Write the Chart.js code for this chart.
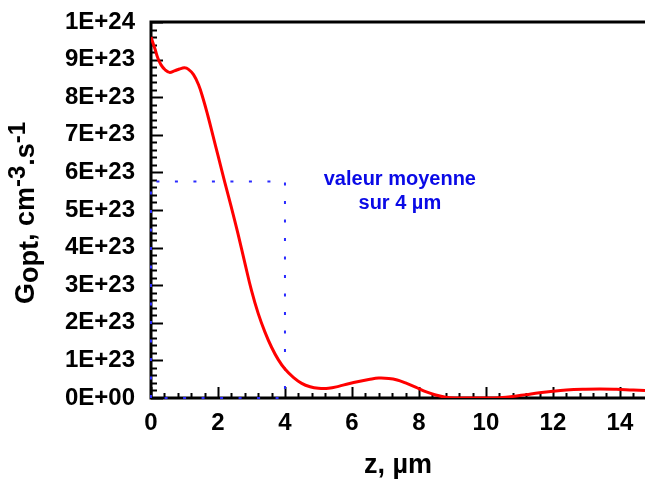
<!DOCTYPE html>
<html lang="fr">
<head>
    <meta charset="UTF-8">
    <title>Gopt</title>
    <script src="https://cdn.jsdelivr.net/npm/chart.js"></script>
    <style>
        body { margin: 0; background: #fff; }
        .chart-container { width: 645px; height: 479px; position: relative; }
    </style>
</head>
<body>
    <div class="chart-container">
        <canvas id="goptChart"></canvas>
    </div>

    <script>
        // profile of the optical generation rate (G in cm-3.s-1)
        const zValues = [0, 0.12, 0.2, 0.3, 0.42, 0.55, 0.7, 0.85, 1.0, 1.12, 1.27, 1.42, 1.55, 1.7, 1.85, 2.0,
            2.2, 2.4, 2.6, 2.8, 3.0, 3.2, 3.4, 3.6, 3.8, 4.0, 4.25, 4.5, 4.75, 5.0, 5.3, 5.6, 5.9, 6.2, 6.5,
            6.8, 7.1, 7.35, 7.6, 7.9, 8.2, 8.5, 8.8, 9.1, 9.5, 10.0, 10.4, 10.8, 11.2, 11.6, 12.0, 12.4,
            12.9, 13.4, 13.9, 14.4, 14.75];
        const gValues = [9.6e23, 9.28e23, 9.05e23, 8.86e23, 8.73e23, 8.66e23, 8.7e23, 8.75e23, 8.78e23, 8.74e23,
            8.6e23, 8.33e23, 7.98e23, 7.5e23, 6.98e23, 6.45e23, 5.75e23, 5.07e23, 4.36e23, 3.6e23, 2.86e23,
            2.25e23, 1.76e23, 1.35e23, 1.02e23, 0.77e23, 0.55e23, 0.39e23, 0.3e23, 0.26e23, 0.26e23,
            0.31e23, 0.38e23, 0.44e23, 0.49e23, 0.53e23, 0.52e23, 0.48e23, 0.4e23, 0.29e23, 0.17e23,
            0.08e23, 0.02e23, 0, 0, 0, 0.01e23, 0.04e23, 0.09e23, 0.14e23, 0.18e23, 0.21e23, 0.23e23,
            0.24e23, 0.23e23, 0.21e23, 0.2e23];

        // mean value over the first 4 µm (dotted box)
        const meanDepth = 4;
        const meanValue = 5.76e23;
        const meanBoxZ = [0, 0, meanDepth, meanDepth, 0];
        const meanBoxG = [0, meanValue, meanValue, 0, 0];

        const yTickLabels = ['0E+00', '1E+23', '2E+23', '3E+23', '4E+23', '5E+23',
            '6E+23', '7E+23', '8E+23', '9E+23', '1E+24'];
        const xTicks = [0, 2, 4, 6, 8, 10, 12, 14];

        const noteLines = ['valeur moyenne', 'sur 4 µm'];
        const noteZ = 7.43;
        const noteG = [5.8e23, 5.16e23];

        const FONT = "'Liberation Sans', Arial, sans-serif";

        // axes frame + inward tick marks, drawn before the datasets
        const framePlugin = {
            id: 'frame',
            beforeDatasetsDraw(chart) {
                const { ctx, chartArea: a, scales: { x, y } } = chart;
                ctx.save();
                ctx.strokeStyle = '#000';
                ctx.lineWidth = 2;
                // y ticks: major every 1E23, 4 minor between
                for (let i = 0; i <= 50; i++) {
                    const py = Math.round(y.getPixelForValue(i * 2e22)) + 0.5;
                    const len = i % 5 === 0 ? 12 : 6;
                    ctx.beginPath();
                    ctx.moveTo(a.left, py);
                    ctx.lineTo(a.left + len, py);
                    ctx.stroke();
                }
                // x ticks: major every 2, minor every 0.4
                for (let i = 0; i * 0.4 <= x.max; i++) {
                    const px = Math.round(x.getPixelForValue(i * 0.4)) + 0.5;
                    const len = i % 5 === 0 ? 11 : 5;
                    ctx.beginPath();
                    ctx.moveTo(px, a.bottom);
                    ctx.lineTo(px, a.bottom - len);
                    ctx.stroke();
                }
                ctx.lineWidth = 3;
                ctx.beginPath();
                ctx.moveTo(chart.width, a.top);
                ctx.lineTo(a.left, a.top);
                ctx.lineTo(a.left, a.bottom);
                ctx.lineTo(chart.width, a.bottom);
                ctx.stroke();
                ctx.restore();
            },
            afterDraw(chart) {
                const { ctx, scales: { x, y } } = chart;
                ctx.save();
                // note text
                ctx.fillStyle = '#0a0ae6';
                ctx.font = 'bold 20px ' + FONT;
                ctx.textAlign = 'center';
                ctx.textBaseline = 'middle';
                noteLines.forEach((t, i) => {
                    ctx.fillText(t, x.getPixelForValue(noteZ), y.getPixelForValue(noteG[i]));
                });
                // y axis title with sub/superscripts
                const parts = [
                    { t: 'G', size: 27, dy: 0 },
                    { t: 'opt', size: 27, dy: 4 },
                    { t: ', cm', size: 27, dy: 0 },
                    { t: '-3', size: 24, dy: -9 },
                    { t: '.s', size: 27, dy: 0 },
                    { t: '-1', size: 24, dy: -9 }
                ];
                let total = 0;
                parts.forEach(p => {
                    ctx.font = 'bold ' + p.size + 'px ' + FONT;
                    p.w = ctx.measureText(p.t).width;
                    total += p.w;
                });
                ctx.translate(34, 213);
                ctx.rotate(-Math.PI / 2);
                ctx.fillStyle = '#000';
                ctx.textAlign = 'left';
                ctx.textBaseline = 'alphabetic';
                let cx = -total / 2;
                parts.forEach(p => {
                    ctx.font = 'bold ' + p.size + 'px ' + FONT;
                    ctx.fillText(p.t, cx, p.dy);
                    cx += p.w;
                });
                ctx.restore();
            }
        };

        const ctx = document.getElementById('goptChart').getContext('2d');
        const goptChart = new Chart(ctx, {
            type: 'scatter',
            data: {
                datasets: [{
                    label: 'Gopt',
                    data: zValues.map((z, i) => ({ x: z, y: gValues[i] })),
                    showLine: true,
                    borderColor: '#ff0000',
                    borderWidth: 3,
                    pointRadius: 0,
                    tension: 0.4,
                    order: 1
                }, {
                    label: 'valeur moyenne',
                    data: meanBoxZ.map((z, i) => ({ x: z, y: meanBoxG[i] })),
                    showLine: true,
                    borderColor: '#2a2aff',
                    borderWidth: 2,
                    borderDash: [3, 15.5],
                    pointRadius: 0,
                    clip: false,
                    order: 2
                }]
            },
            options: {
                responsive: true,
                maintainAspectRatio: false,
                animation: false,
                layout: { padding: { top: 22, right: 0, left: 0, bottom: 0 } },
                plugins: {
                    legend: { display: false },
                    tooltip: { enabled: false }
                },
                scales: {
                    x: {
                        type: 'linear',
                        min: 0,
                        max: 14.75,
                        grid: { display: false },
                        border: { display: false },
                        afterFit: s => { s.height = 81; s.paddingLeft = 0; s.paddingRight = 0; },
                        afterBuildTicks: s => { s.ticks = xTicks.map(v => ({ value: v })); },
                        ticks: {
                            padding: 3,
                            maxRotation: 0,
                            color: '#000',
                            font: { family: FONT, size: 24, weight: 'bold' }
                        },
                        title: {
                            display: true,
                            text: 'z, µm',
                            color: '#000',
                            font: { family: FONT, size: 27, weight: 'bold', lineHeight: 1 },
                            padding: { top: 0, bottom: 0 }
                        }
                    },
                    y: {
                        min: 0,
                        max: 1e24,
                        grid: { display: false },
                        border: { display: false },
                        afterFit: s => { s.width = 151; s.paddingTop = 0; s.paddingBottom = 0; },
                        ticks: {
                            stepSize: 1e23,
                            padding: 8,
                            color: '#000',
                            font: { family: FONT, size: 24, weight: 'bold' },
                            callback: v => yTickLabels[Math.round(v / 1e23)]
                        }
                    }
                }
            },
            plugins: [framePlugin]
        });
    </script>
</body>
</html>
